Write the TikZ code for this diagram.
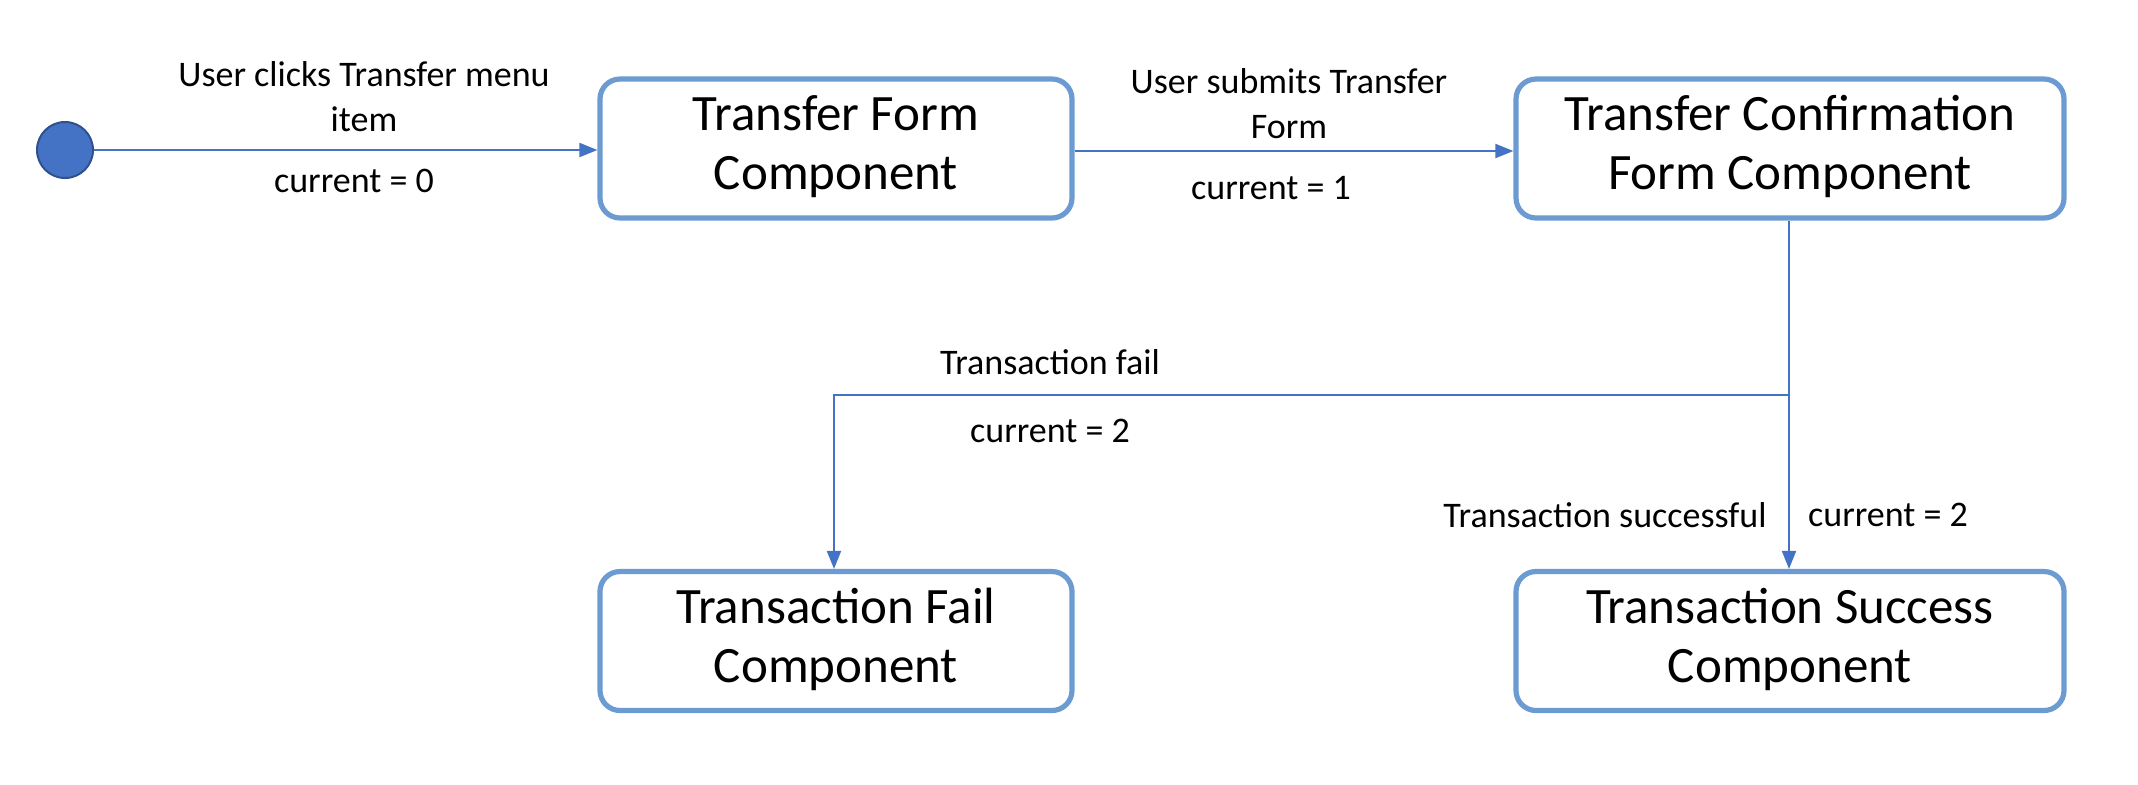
\documentclass[tikz,border=0pt]{standalone}
\usepackage{fontspec}
\setmainfont{Carlito}
\usetikzlibrary{arrows.meta}
\definecolor{boxblue}{HTML}{6C9BD2}
\definecolor{linkblue}{HTML}{4472C4}
\definecolor{dotedge}{HTML}{2F528F}
\tikzset{
  statebox/.style={draw=boxblue, line width=2.6pt, rounded corners=10pt, fill=white,
    minimum width=236pt, minimum height=69.5pt, align=center, font=\fontsize{25.5}{29.5}\selectfont, inner sep=0pt},
  widebox/.style={statebox, minimum width=274pt},
  lbl/.style={align=center, font=\fontsize{18}{22.5}\selectfont, inner sep=0pt},
  link/.style={draw=linkblue, line width=1pt, -{Triangle[length=9pt,width=7pt]}}
}
\newcommand{\boxtext}[2]{\raisebox{-2pt}{\begin{tabular}{@{}c@{}}#1\\#2\end{tabular}}}
\begin{document}
\begin{tikzpicture}[x=0.5pt,y=-0.5pt]
\useasboundingbox (0,0) rectangle (2138,784);
\node[circle, fill=linkblue, draw=dotedge, line width=1pt, minimum size=28pt, inner sep=0pt] (start) at (65,150) {};
\node[statebox] (tf) at (836,148.5) {\boxtext{Transfer Form}{Component}};
\node[widebox] (tc) at (1790,148.5) {\boxtext{Transfer Confirmation}{Form Component}};
\node[statebox] (fail) at (836,641) {\boxtext{Transaction Fail}{Component}};
\node[widebox] (succ) at (1790,641) {\boxtext{Transaction Success}{Component}};

\draw[link] (start) -- (tf.west |- start);
\draw[link] (tf.east |- 0,151) -- (tc.west |- 0,151);
\coordinate (junc) at (1789,395);
\draw[link] (tc.south -| junc) -- (succ.north -| junc);
\draw[link] (junc) -| (fail.north -| 834,0);

\node[lbl] (l1) at (364,97) {User clicks Transfer menu\\item};
\node[lbl] (l1b) at (354,181) {current = 0};
\node[lbl] (l2) at (1289,104) {User submits Transfer\\Form};
\node[lbl] (l2b) at (1271,188) {current = 1};
\node[lbl] (l3) at (1050,362) {Transaction fail};
\node[lbl] (l3b) at (1050,431) {current = 2};
\node[lbl] (l4) at (1605,515) {Transaction successful};
\node[lbl] (l4b) at (1888,515) {current = 2};
\end{tikzpicture}
\end{document}
